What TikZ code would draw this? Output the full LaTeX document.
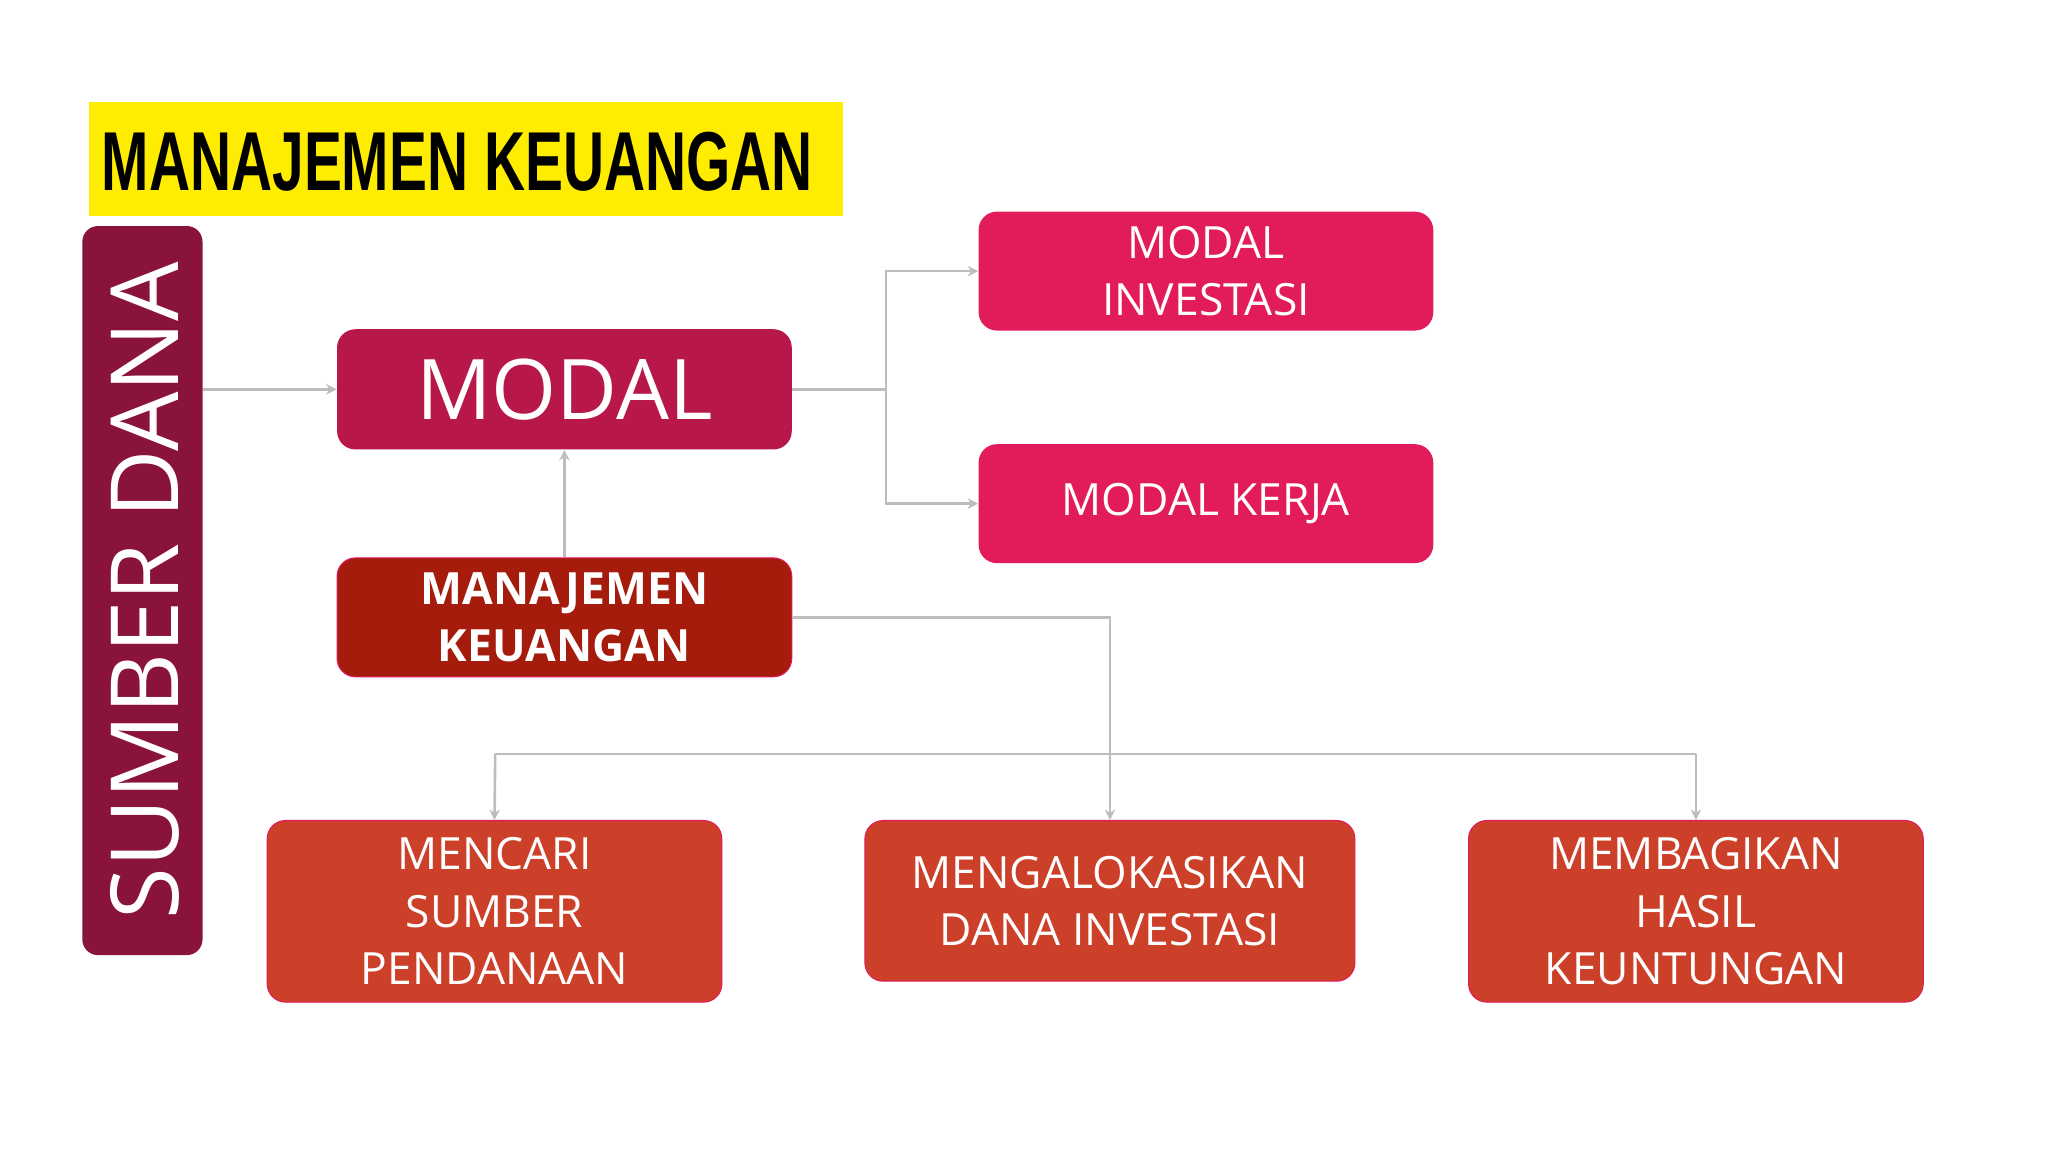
\documentclass[tikz,border=0pt]{standalone}
\usepackage{fontspec}
\setmainfont{Open Sans}
\usetikzlibrary{arrows.meta}
\definecolor{bar}{HTML}{8A1439}
\definecolor{modal}{HTML}{B8174A}
\definecolor{pink}{HTML}{E21B5A}
\definecolor{mk}{HTML}{A51C0C}
\definecolor{bot}{HTML}{CC3F28}
\definecolor{ln}{HTML}{BDBDBD}
\begin{document}
\begin{tikzpicture}[x=0.5pt,y=-0.5pt,
 box/.style={rounded corners=7pt,text=white,align=center,inner sep=0pt,minimum width=174pt,font=\fontsize{17}{22}\selectfont},
 con/.style={draw=ln,line width=1pt},
 arr/.style={con,-{Stealth[length=4pt,width=4pt]}}]
\useasboundingbox[fill=white] (0,0) rectangle (1567.5,881.7);
\node[fill=yellow!90!orange!60!yellow,minimum width=288.5pt,minimum height=43.5pt,inner sep=0pt] (title) at (356.5,121.5) {};
\node[font=\fontspec{Liberation Sans}\bfseries\fontsize{32}{32}\selectfont] (tt) at (350,124) {\scalebox{0.68}[1]{MANAJEMEN KEUANGAN}};
\node[fill=bar,rounded corners=6pt,minimum width=46pt,minimum height=279pt,inner sep=0pt] (sd) at (109,452) {};
\node[rotate=90,text=white,font=\fontsize{36}{36}\selectfont] (sdt) at (111,452) {SUMBER DANA};
\node[box,fill=modal,minimum height=46pt,font=\fontsize{32}{32}\selectfont] (modal) at (432,298) {MODAL};
\node[box,fill=pink,minimum height=45.5pt] (mi) at (923,207.5) {MODAL\\INVESTASI};
\node[box,fill=pink,minimum height=45.5pt] (mkj) at (923,385.5) {MODAL KERJA};
\node[box,fill=mk,draw=pink,minimum height=45.5pt,font=\fontsize{17}{22}\selectfont\bfseries] (mk) at (432,472.5) {MANAJEMEN\\KEUANGAN};
\node[box,fill=bot,draw=pink,minimum height=69.5pt] (b1) at (378.5,697.5) {MENCARI\\SUMBER\\PENDANAAN};
\node[box,fill=bot,draw=pink,minimum width=187.5pt,minimum height=61.5pt] (b2) at (849.5,689.5) {MENGALOKASIKAN\\DANA INVESTASI};
\node[box,fill=bot,draw=pink,minimum height=69.5pt] (b3) at (1298,697.5) {MEMBAGIKAN\\HASIL\\KEUNTUNGAN};
\coordinate (j1) at (678,298);
\coordinate (hl) at (379,577);
\coordinate (hr) at (1298,577);
\draw[arr] (sd.east|-modal) -- (modal.west);
\draw[con] (modal.east) -- (j1);
\draw[arr] (j1) |- (mi.west);
\draw[arr] (j1) |- (mkj.west);
\draw[arr] (mk.north) -- (modal.south);
\draw[arr] (mk.east) -| (b2.north);
\draw[con] (hl) -- (hr);
\draw[arr] (hl) -- (b1.north);
\draw[arr] (hr) -- (b3.north);
\end{tikzpicture}
\end{document}
